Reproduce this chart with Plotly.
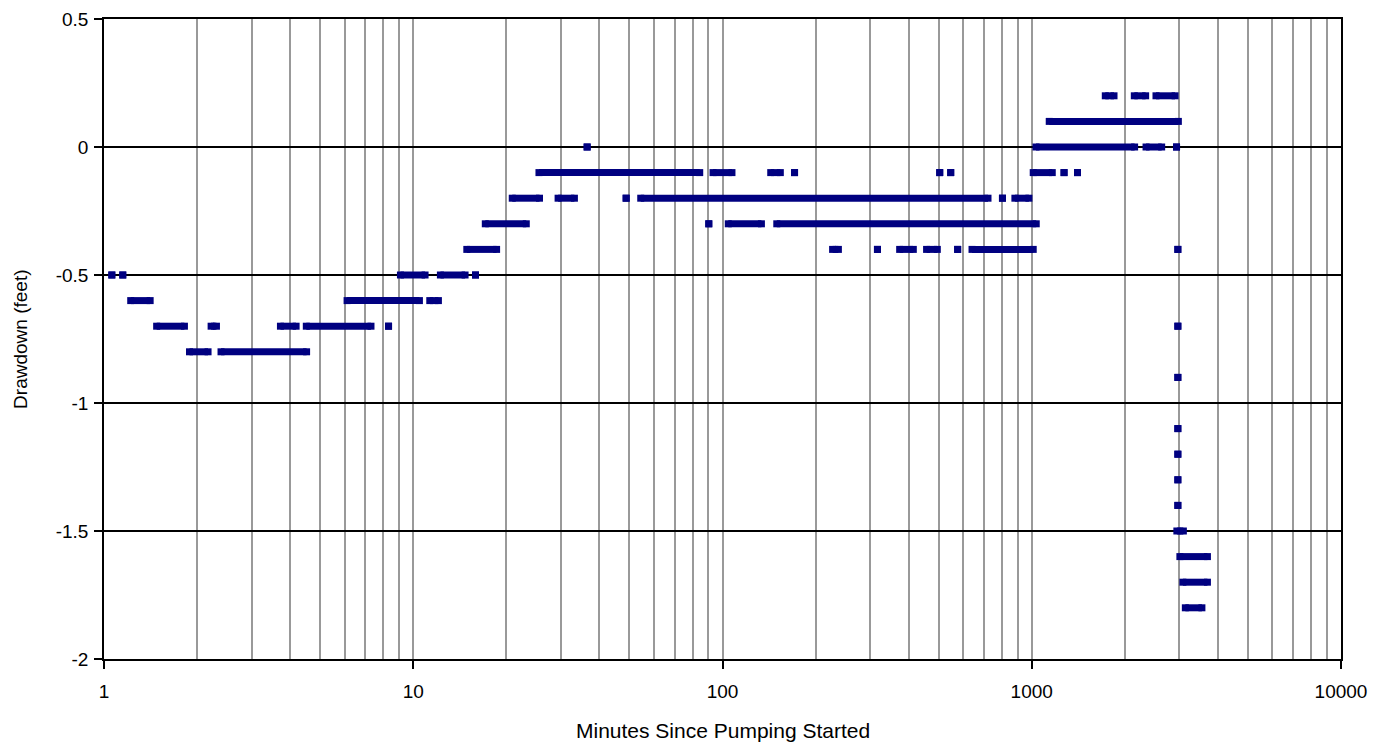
import plotly.graph_objects as go

# Drawdown level (feet) for each run of readings, with first and last time (minutes) of the run
seg_y = [0.2, 0.2, 0.2,
         0.1,
         0.0, 0.0, 0.0, 0.0,
         -0.1, -0.1, -0.1, -0.1, -0.1, -0.1, -0.1, -0.1, -0.1,
         -0.2, -0.2, -0.2, -0.2, -0.2, -0.2,
         -0.3, -0.3, -0.3, -0.3,
         -0.4, -0.4, -0.4, -0.4, -0.4, -0.4, -0.4, -0.4,
         -0.5, -0.5, -0.5, -0.5, -0.5,
         -0.6, -0.6, -0.6,
         -0.7, -0.7, -0.7, -0.7, -0.7, -0.7,
         -0.8, -0.8,
         -0.9, -1.1, -1.2, -1.3, -1.4,
         -1.5, -1.6, -1.7, -1.8]
seg_t0 = [1729, 2146, 2522,
          1139,
          36.5, 1032, 2342, 2939,
          25.5, 93.2, 143.2, 171, 504, 547, 1011, 1272, 1406,
          20.9, 29.4, 48.8, 54.4, 804, 882,
          17.1, 90.3, 104.4, 149.8,
          14.9, 227, 317, 374, 457, 576, 641, 2968,
          1.06, 1.15, 9.09, 12.24, 15.9,
          1.22, 6.11, 11.31,
          1.48, 2.22, 3.72, 4.51, 8.32, 2968,
          1.89, 2.39,
          2968, 2968, 2968, 2968, 2968,
          2946, 3013, 3081, 3138]
seg_t1 = [1845, 2335, 2907,
          2979,
          36.5, 2151, 2631, 2939,
          84.4, 107.3, 153.8, 171, 504, 547, 1165, 1272, 1406,
          25.6, 33.2, 48.8, 722, 804, 979,
          23.2, 90.3, 133.6, 1034,
          18.6, 237, 317, 414, 495, 576, 1011, 2968,
          1.06, 1.15, 10.92, 14.71, 15.9,
          1.41, 10.47, 12.06,
          1.82, 2.31, 4.18, 7.30, 8.32, 2968,
          2.17, 4.52,
          2968, 2968, 2968, 2968, 2968,
          3092, 3699, 3699, 3550]

x_ticks = [1, 10, 100, 1000, 10000]
x_tick_text = ["1", "10", "100", "1000", "10000"]
x_minor = [m * d for d in (1, 10, 100, 1000) for m in range(2, 10)]
y_ticks = [0.5, 0, -0.5, -1, -1.5, -2]
y_tick_text = ["0.5", "0", "-0.5", "-1", "-1.5", "-2"]
x_title = "Minutes Since Pumping Started"
y_title = "Drawdown (feet)"

NAVY = "#000080"
FONT = "Liberation Sans, Arial, sans-serif"

lx, ly = [], []
for y, a, b in zip(seg_y, seg_t0, seg_t1):
    lx += [a, b, None]
    ly += [y, y, None]

mx, my = [], []
for y, a, b in zip(seg_y, seg_t0, seg_t1):
    mx += [a, b]
    my += [y, y]

fig = go.Figure()
fig.add_trace(go.Scatter(x=lx, y=ly, mode="lines",
                         line=dict(color=NAVY, width=7),
                         connectgaps=False, hoverinfo="skip", showlegend=False))
fig.add_trace(go.Scatter(x=mx, y=my, mode="markers",
                         marker=dict(symbol="square", size=7, color=NAVY,
                                     line=dict(width=0)),
                         showlegend=False))

fig.update_layout(
    width=1392, height=747,
    margin=dict(l=104, r=51, t=19, b=88, autoexpand=False),
    paper_bgcolor="white", plot_bgcolor="white",
    font=dict(family=FONT, size=19, color="black"),
    annotations=[
        dict(text=x_title, xref="paper", yref="paper", x=0.5, y=-0.111,
             xanchor="center", yanchor="middle", showarrow=False,
             font=dict(size=21)),
        dict(text=y_title, xref="paper", yref="paper", x=-0.068, y=0.5,
             xanchor="center", yanchor="middle", showarrow=False,
             textangle=-90, font=dict(size=19)),
    ],
)
fig.update_xaxes(
    type="log", range=[0, 4], automargin=False,
    tickmode="array", tickvals=x_ticks, ticktext=x_tick_text,
    showgrid=True, gridcolor="#999999", gridwidth=1.5,
    minor=dict(tickmode="array", tickvals=x_minor, showgrid=True,
               gridcolor="#999999", gridwidth=1.5, ticks=""),
    showline=True, linecolor="black", linewidth=1.5, mirror=True,
    ticks="outside", ticklen=8, tickwidth=1.5, tickcolor="black",
    ticklabelstandoff=6,
    tickfont=dict(size=19),
    zeroline=False,
)
fig.update_yaxes(
    range=[-2, 0.5], automargin=False,
    tickmode="array", tickvals=y_ticks, ticktext=y_tick_text,
    showgrid=True, gridcolor="black", gridwidth=1.5,
    showline=True, linecolor="black", linewidth=1.5, mirror=True,
    ticks="outside", ticklen=8, tickwidth=1.5, tickcolor="black",
    ticklabelstandoff=2,
    tickfont=dict(size=19),
    zeroline=False,
)

fig.write_html(
    "out.html",
    config={"displayModeBar": False},
    post_script="document.body.style.margin='0px';document.body.style.overflow='hidden';",
)
